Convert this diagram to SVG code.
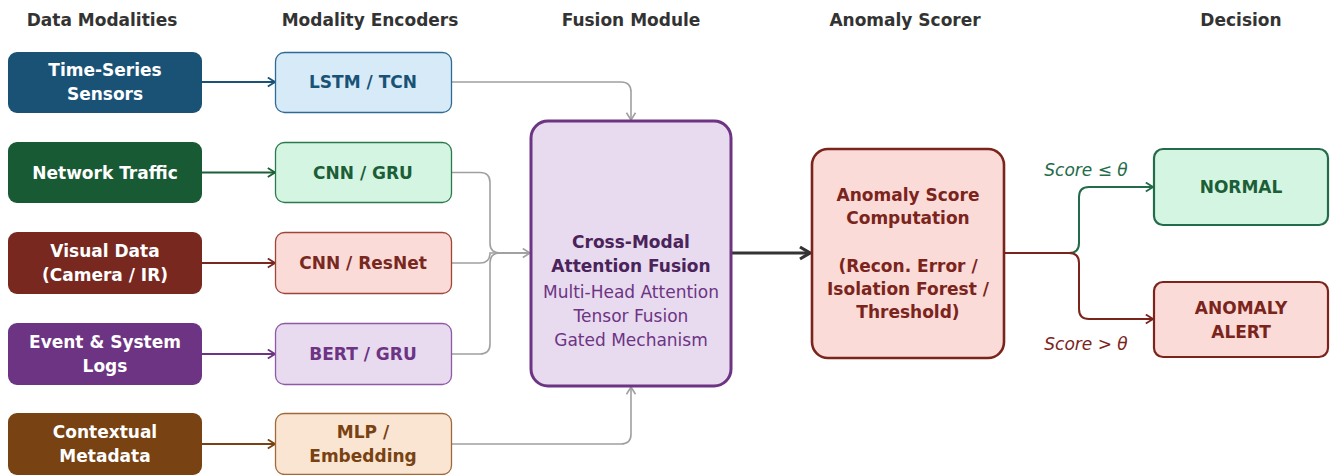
<svg xmlns="http://www.w3.org/2000/svg" width="1330" height="475" viewBox="0 0 1330 475">
  <style>
    text { font-family: "DejaVu Sans", Verdana, sans-serif; text-anchor: middle; }
    .hdr { font-size: 17px; font-weight: bold; fill: #333333; }
    .src { font-size: 17px; font-weight: bold; fill: #ffffff; }
    .enc { font-size: 17px; font-weight: bold; }
    .body { font-size: 17px; }
    .lbl { font-size: 17px; font-style: italic; }
    .gray { fill: none; stroke: #a0a0a0; stroke-width: 1.6; }
  </style>
  <defs>
    <marker id="m-blue" viewBox="0 0 10 12" refX="9" refY="6" markerWidth="9" markerHeight="11" markerUnits="userSpaceOnUse" orient="auto"><path d="M1,1 L9,6 L1,11" fill="none" stroke="#1a5276" stroke-width="2"/></marker>
    <marker id="m-green" viewBox="0 0 10 12" refX="9" refY="6" markerWidth="9" markerHeight="11" markerUnits="userSpaceOnUse" orient="auto"><path d="M1,1 L9,6 L1,11" fill="none" stroke="#1b5e37" stroke-width="2"/></marker>
    <marker id="m-red" viewBox="0 0 10 12" refX="9" refY="6" markerWidth="9" markerHeight="11" markerUnits="userSpaceOnUse" orient="auto"><path d="M1,1 L9,6 L1,11" fill="none" stroke="#78281f" stroke-width="2"/></marker>
    <marker id="m-purple" viewBox="0 0 10 12" refX="9" refY="6" markerWidth="9" markerHeight="11" markerUnits="userSpaceOnUse" orient="auto"><path d="M1,1 L9,6 L1,11" fill="none" stroke="#6c3483" stroke-width="2"/></marker>
    <marker id="m-brown" viewBox="0 0 10 12" refX="9" refY="6" markerWidth="9" markerHeight="11" markerUnits="userSpaceOnUse" orient="auto"><path d="M1,1 L9,6 L1,11" fill="none" stroke="#784212" stroke-width="2"/></marker>
    <marker id="m-gray" viewBox="0 0 10 12" refX="9" refY="6" markerWidth="9" markerHeight="11" markerUnits="userSpaceOnUse" orient="auto"><path d="M1,1 L9,6 L1,11" fill="none" stroke="#a0a0a0" stroke-width="1.8"/></marker>
    <marker id="m-dark" viewBox="0 0 14 16" refX="12" refY="8" markerWidth="14" markerHeight="16" markerUnits="userSpaceOnUse" orient="auto"><path d="M2,2 L12,8 L2,14" fill="none" stroke="#333333" stroke-width="3.2"/></marker>
    <marker id="m-ok" viewBox="0 0 10 12" refX="9" refY="6" markerWidth="9" markerHeight="11" markerUnits="userSpaceOnUse" orient="auto"><path d="M1,1 L9,6 L1,11" fill="none" stroke="#236b4a" stroke-width="2"/></marker>
    <marker id="m-alert" viewBox="0 0 10 12" refX="9" refY="6" markerWidth="9" markerHeight="11" markerUnits="userSpaceOnUse" orient="auto"><path d="M1,1 L9,6 L1,11" fill="none" stroke="#7b241c" stroke-width="2"/></marker>
  </defs>

  <rect width="1330" height="475" fill="#ffffff"/>

  <!-- column headings -->
  <g id="headings">
    <text class="hdr" x="102" y="26">Data Modalities</text>
    <text class="hdr" x="370" y="26">Modality Encoders</text>
    <text class="hdr" x="631" y="26">Fusion Module</text>
    <text class="hdr" x="905" y="26">Anomaly Scorer</text>
    <text class="hdr" x="1241" y="26">Decision</text>
  </g>

  <!-- connectors -->
  <g id="connectors">
    <line x1="202" y1="82" x2="275" y2="82" stroke="#1a5276" stroke-width="2" marker-end="url(#m-blue)"/>
    <line x1="202" y1="172.5" x2="275" y2="172.5" stroke="#1b5e37" stroke-width="2" marker-end="url(#m-green)"/>
    <line x1="202" y1="263" x2="275" y2="263" stroke="#78281f" stroke-width="2" marker-end="url(#m-red)"/>
    <line x1="202" y1="354" x2="275" y2="354" stroke="#6c3483" stroke-width="2" marker-end="url(#m-purple)"/>
    <line x1="202" y1="444" x2="275" y2="444" stroke="#784212" stroke-width="2" marker-end="url(#m-brown)"/>

    <path class="gray" d="M451,82 H621 Q631,82 631,92 V120" marker-end="url(#m-gray)"/>
    <path class="gray" d="M451,172.5 H480 Q490,172.5 490,182.5 V243 Q490,253 500,253 H530" marker-end="url(#m-gray)"/>
    <path class="gray" d="M451,263 H480 Q490,263 490,253 Q490,253 500,253 H530"/>
    <path class="gray" d="M451,354 H480 Q490,354 490,344 V263 Q490,253 500,253 H530"/>
    <path class="gray" d="M451,444 H621 Q631,444 631,434 V387" marker-end="url(#m-gray)"/>

    <line x1="732" y1="253" x2="810" y2="253" stroke="#333333" stroke-width="3.2" marker-end="url(#m-dark)"/>

    <path d="M1005,253 H1069 Q1079,253 1079,243 V197 Q1079,187 1089,187 H1153" fill="none" stroke="#236b4a" stroke-width="2" marker-end="url(#m-ok)"/>
    <path d="M1005,253 H1069 Q1079,253 1079,263 V309 Q1079,319 1089,319 H1153" fill="none" stroke="#7b241c" stroke-width="2" marker-end="url(#m-alert)"/>
    <text class="lbl" x="1086" y="176" fill="#236b4a">Score ≤ θ</text>
    <text class="lbl" x="1086" y="350" fill="#7b241c">Score &gt; θ</text>
  </g>

  <!-- data modality sources -->
  <g id="src-timeseries">
    <rect x="8" y="52" width="194" height="61" rx="9" fill="#1a5276"/>
    <text class="src" x="105" y="76">Time-Series</text>
    <text class="src" x="105" y="100">Sensors</text>
  </g>
  <g id="src-network">
    <rect x="8" y="142" width="194" height="61" rx="9" fill="#185a34"/>
    <text class="src" x="105" y="178.5">Network Traffic</text>
  </g>
  <g id="src-visual">
    <rect x="8" y="232" width="194" height="62" rx="9" fill="#78281f"/>
    <text class="src" x="105" y="257">Visual Data</text>
    <text class="src" x="105" y="281">(Camera / IR)</text>
  </g>
  <g id="src-logs">
    <rect x="8" y="323" width="194" height="62" rx="9" fill="#6c3483"/>
    <text class="src" x="105" y="348">Event &amp; System</text>
    <text class="src" x="105" y="372">Logs</text>
  </g>
  <g id="src-context">
    <rect x="8" y="413" width="194" height="62" rx="9" fill="#784212"/>
    <text class="src" x="105" y="438">Contextual</text>
    <text class="src" x="105" y="462">Metadata</text>
  </g>

  <!-- modality encoders -->
  <g id="enc-lstm">
    <rect x="275.5" y="52.5" width="176" height="60" rx="9" fill="#d6eaf8" stroke="#2e6a94" stroke-width="1.3"/>
    <text class="enc" x="363" y="88" fill="#1a5276">LSTM / TCN</text>
  </g>
  <g id="enc-cnn-gru">
    <rect x="275.5" y="142.5" width="176" height="60" rx="9" fill="#d5f5e3" stroke="#2a7a4c" stroke-width="1.3"/>
    <text class="enc" x="363" y="178.5" fill="#1b5e37">CNN / GRU</text>
  </g>
  <g id="enc-resnet">
    <rect x="275.5" y="232.5" width="176" height="61" rx="9" fill="#fadbd8" stroke="#a04438" stroke-width="1.3"/>
    <text class="enc" x="363" y="269" fill="#78281f">CNN / ResNet</text>
  </g>
  <g id="enc-bert">
    <rect x="275.5" y="323.5" width="176" height="61" rx="9" fill="#e8daef" stroke="#8e5aa8" stroke-width="1.3"/>
    <text class="enc" x="363" y="360" fill="#6c3483">BERT / GRU</text>
  </g>
  <g id="enc-mlp">
    <rect x="275.5" y="413.5" width="176" height="61" rx="9" fill="#fae5d3" stroke="#a0693a" stroke-width="1.3"/>
    <text class="enc" x="363" y="438" fill="#784212">MLP /</text>
    <text class="enc" x="363" y="462" fill="#784212">Embedding</text>
  </g>

  <!-- fusion module -->
  <g id="fusion">
    <rect x="531" y="121" width="200" height="265" rx="17" fill="#e8daef" stroke="#6c3483" stroke-width="3"/>
    <text class="enc" x="631" y="248" fill="#4a235a">Cross-Modal</text>
    <text class="enc" x="631" y="272" fill="#4a235a">Attention Fusion</text>
    <text class="body" x="631" y="298" fill="#6c3483">Multi-Head Attention</text>
    <text class="body" x="631" y="322" fill="#6c3483">Tensor Fusion</text>
    <text class="body" x="631" y="346" fill="#6c3483">Gated Mechanism</text>
  </g>

  <!-- anomaly scorer -->
  <g id="scorer">
    <rect x="812" y="149" width="192" height="209" rx="16" fill="#fadbd8" stroke="#7b241c" stroke-width="2.6"/>
    <text class="enc" x="908" y="201" fill="#7b241c">Anomaly Score</text>
    <text class="enc" x="908" y="224" fill="#7b241c">Computation</text>
    <text class="enc" x="908" y="272" fill="#7b241c">(Recon. Error /</text>
    <text class="enc" x="908" y="295" fill="#7b241c">Isolation Forest /</text>
    <text class="enc" x="908" y="318" fill="#7b241c">Threshold)</text>
  </g>

  <!-- decisions -->
  <g id="dec-normal">
    <rect x="1154" y="149" width="174" height="76" rx="9" fill="#d5f5e3" stroke="#236b4a" stroke-width="2.2"/>
    <text class="enc" x="1241" y="193" fill="#1b5e37">NORMAL</text>
  </g>
  <g id="dec-alert">
    <rect x="1154" y="282" width="174" height="75" rx="9" fill="#fadbd8" stroke="#7b241c" stroke-width="2.2"/>
    <text class="enc" x="1241" y="314" fill="#7b241c">ANOMALY</text>
    <text class="enc" x="1241" y="338" fill="#7b241c">ALERT</text>
  </g>
</svg>
